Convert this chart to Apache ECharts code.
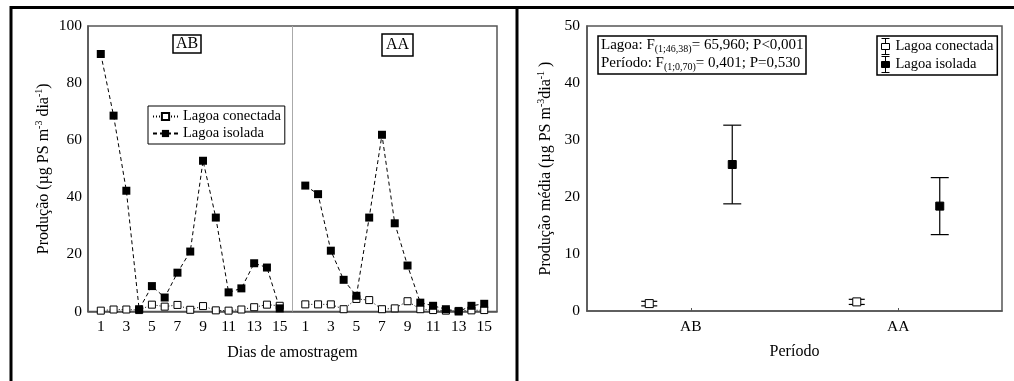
<!DOCTYPE html>
<html>
<head>
<meta charset="utf-8">
<script src="https://cdn.jsdelivr.net/npm/echarts@6/dist/echarts.min.js"></script>
<style>
  html, body { margin: 0; padding: 0; background: #fff; }
  #main { width: 1014px; height: 381px; }
</style>
</head>
<body>
<div id="main"></div>
<script>
// dias de amostragem (cada período)
var days = [1, 2, 3, 4, 5, 6, 7, 8, 9, 10, 11, 12, 13, 14, 15];
// período AB
var abConectada = [0.3, 0.7, 0.7, 0.5, 2.4, 1.7, 2.3, 0.6, 1.9, 0.4, 0.3, 0.7, 1.5, 2.4, 2.0];
var abIsolada = [90.2, 68.6, 42.3, 0.8, 8.9, 4.9, 13.6, 21.0, 52.8, 32.9, 6.7, 8.1, 16.9, 15.4, 1.1];
// período AA
var aaConectada = [2.5, 2.5, 2.5, 0.8, 4.4, 4.0, 0.8, 1.1, 3.6, 0.8, 0.5, 0.3, 0.2, 0.4, 0.5];
var aaIsolada = [44.1, 41.1, 21.3, 11.1, 5.5, 32.9, 61.9, 30.9, 16.1, 3.1, 2.0, 0.8, 0.0, 2.0, 2.7];

// médias por período (painel direito)
var periodos = ["AB", "AA"];
var mediaConectada = [1.3, 1.6];
var erroConectada = [0.4, 0.45];
var mediaIsolada = [25.7, 18.4];
var erroIsolada = [6.9, 5.0];

var FONT = "Liberation Serif";
var OFFSET_AA = 16; // AA é desenhado à direita da linha divisória

function pts(vals, shift) {
  return days.map(function (d, i) { return [d + shift, vals[i]]; });
}
function errData(mean, err) {
  return periodos.map(function (p, i) { return [i, mean[i], mean[i] - err[i], mean[i] + err[i]]; });
}

function errorBar(offset, capW, filled) {
  return function (params, api) {
    var i = api.value(0);
    var band = api.size([1, 0])[0];
    var x = api.coord([i, 0])[0] + offset * band;
    var yM = api.coord([i, api.value(1)])[1];
    var yLo = api.coord([i, api.value(2)])[1];
    var yHi = api.coord([i, api.value(3)])[1];
    var s = 8;
    var st = { stroke: "#000", lineWidth: 1.2 };
    return {
      type: "group",
      children: [
        { type: "line", shape: { x1: x, y1: yLo, x2: x, y2: yHi }, style: st },
        { type: "line", shape: { x1: x - capW / 2, y1: yLo, x2: x + capW / 2, y2: yLo }, style: st },
        { type: "line", shape: { x1: x - capW / 2, y1: yHi, x2: x + capW / 2, y2: yHi }, style: st },
        { type: "rect", shape: { x: x - s / 2, y: yM - s / 2, width: s, height: s },
          style: { fill: filled ? "#000" : "#fff", stroke: "#000", lineWidth: 1 } }
      ]
    };
  };
}

var dayLabel = function (v) {
  if (v >= 1 && v <= 15 && v % 2 === 1) return String(v);
  var w = v - OFFSET_AA;
  if (w >= 1 && w <= 15 && w % 2 === 1) return String(w);
  return "";
};

var nameRich = {
  a: { fontSize: 16, fontFamily: FONT, color: "#000", lineHeight: 20 },
  sup: { fontSize: 10, fontFamily: FONT, color: "#000", verticalAlign: "top", lineHeight: 11 }
};

var conectadaStyle = {
  symbol: "rect", symbolSize: 7,
  itemStyle: { color: "#fff", borderColor: "#000", borderWidth: 1 },
  lineStyle: { color: "#000", width: 1, type: [1, 2] }
};
var isoladaStyle = {
  symbol: "rect", symbolSize: 8,
  itemStyle: { color: "#000" },
  lineStyle: { color: "#000", width: 1, type: [4, 3] }
};

var chart = echarts.init(document.getElementById("main"));
var option = {
  backgroundColor: "#fff",
  animation: false,
  textStyle: { fontFamily: FONT, color: "#000" },
  title: [
    { text: "AB", left: 173, top: 35, padding: [1, 3], borderColor: "#000", borderWidth: 1.5,
      textStyle: { fontSize: 16, fontWeight: "normal", fontFamily: FONT, color: "#000" } },
    { text: "AA", left: 382, top: 34, padding: [3, 4], borderColor: "#000", borderWidth: 1.5,
      textStyle: { fontSize: 16, fontWeight: "normal", fontFamily: FONT, color: "#000" } },
    {
      text: "{a|Lagoa: F}{s|(1;46,38)}{a|= 65,960; P<0,001}\n{a|Período: F}{s|(1;0,70)}{a|= 0,401; P=0,530}",
      left: 598, top: 34, padding: [2, 3], borderColor: "#000", borderWidth: 1.5,
      textStyle: {
        fontWeight: "normal",
        rich: {
          a: { fontSize: 15, fontWeight: "normal", fontFamily: FONT, color: "#000", lineHeight: 18 },
          s: { fontSize: 10, fontWeight: "normal", fontFamily: FONT, color: "#000", verticalAlign: "bottom", lineHeight: 12 }
        }
      }
    }
  ],
  legend: [
    {
      orient: "vertical", left: 148, top: 106, padding: [3, 4], itemGap: 2,
      itemWidth: 25, itemHeight: 9,
      borderColor: "#000", borderWidth: 1, backgroundColor: "#fff",
      textStyle: { fontSize: 14.5, fontFamily: FONT, color: "#000" },
      data: ["Lagoa conectada", "Lagoa isolada"]
    },
    {
      orient: "vertical", left: 877, top: 36, padding: [2, 4], itemGap: 1,
      itemWidth: 10, itemHeight: 16,
      borderColor: "#000", borderWidth: 1.5,
      textStyle: { fontSize: 14.5, fontFamily: FONT, color: "#000" },
      data: [
        { name: "Lagoa conectada", icon: "path://M5,0V5M5,11V16M1,0H9M1,16H9M1,5H9V11H1Z",
          itemStyle: { color: "#fff", borderColor: "#000", borderWidth: 1 } },
        { name: "Lagoa isolada", icon: "path://M5,0V16M1,0H9M1,16H9M1,5H9V11H1Z",
          itemStyle: { color: "#000", borderColor: "#000", borderWidth: 1 } }
      ]
    }
  ],
  grid: [
    { left: 88, top: 26, width: 409, height: 285.5, show: true, borderColor: "#555", borderWidth: 1.5 },
    { left: 587, top: 26, width: 415, height: 285, show: true, borderColor: "#555", borderWidth: 1.5 }
  ],
  xAxis: [
    {
      gridIndex: 0, type: "value", min: 0, max: 32, interval: 1,
      name: "Dias de amostragem", nameLocation: "middle", nameGap: 33,
      nameTextStyle: { fontSize: 16, fontFamily: FONT, color: "#000" },
      axisLine: { lineStyle: { color: "#555", width: 1.5 } },
      axisTick: { show: false }, splitLine: { show: false },
      axisLabel: { fontSize: 15.5, fontFamily: FONT, color: "#000", margin: 7, formatter: dayLabel }
    },
    {
      gridIndex: 1, type: "category", data: periodos,
      name: "Período", nameLocation: "middle", nameGap: 33,
      nameTextStyle: { fontSize: 16, fontFamily: FONT, color: "#000" },
      axisLine: { lineStyle: { color: "#555", width: 1.5 } },
      axisTick: { show: true, inside: true, length: 3, alignWithLabel: true, lineStyle: { color: "#555" } },
      splitLine: { show: false },
      axisLabel: { fontSize: 15.5, fontFamily: FONT, color: "#000", margin: 8 }
    }
  ],
  yAxis: [
    {
      gridIndex: 0, type: "value", min: 0, max: 100, interval: 20,
      name: "{a|Produção (µg PS m}{sup|-3}{a| dia}{sup|-1}{a|)}",
      nameLocation: "middle", nameGap: 34,
      nameTextStyle: { rich: nameRich },
      axisLine: { show: true, lineStyle: { color: "#555", width: 1.5 } },
      axisTick: { show: false }, splitLine: { show: false },
      axisLabel: { fontSize: 15.5, fontFamily: FONT, color: "#000", margin: 6 }
    },
    {
      gridIndex: 1, type: "value", min: 0, max: 50, interval: 10,
      name: "{a|Produção média (µg PS m}{sup|-3}{a|dia}{sup|-1}{a| )}",
      nameLocation: "middle", nameGap: 31,
      nameTextStyle: { rich: nameRich },
      axisLine: { show: true, lineStyle: { color: "#555", width: 1.5 } },
      axisTick: { show: false }, splitLine: { show: false },
      axisLabel: { fontSize: 15.5, fontFamily: FONT, color: "#000", margin: 7 }
    }
  ],
  series: [
    Object.assign({ name: "Lagoa conectada", type: "line", xAxisIndex: 0, yAxisIndex: 0,
      data: pts(abConectada, 0),
      markLine: {
        silent: true, symbol: "none", label: { show: false },
        lineStyle: { color: "#aaa", width: 1, type: "solid" },
        data: [{ xAxis: OFFSET_AA }]
      }
    }, conectadaStyle),
    Object.assign({ name: "Lagoa conectada", type: "line", xAxisIndex: 0, yAxisIndex: 0,
      data: pts(aaConectada, OFFSET_AA) }, conectadaStyle),
    Object.assign({ name: "Lagoa isolada", type: "line", xAxisIndex: 0, yAxisIndex: 0,
      data: pts(abIsolada, 0) }, isoladaStyle),
    Object.assign({ name: "Lagoa isolada", type: "line", xAxisIndex: 0, yAxisIndex: 0,
      data: pts(aaIsolada, OFFSET_AA) }, isoladaStyle),
    {
      name: "Lagoa conectada", type: "custom", xAxisIndex: 1, yAxisIndex: 1,
      encode: { x: 0, y: [1, 2, 3] },
      renderItem: errorBar(-0.2, 16, false),
      data: errData(mediaConectada, erroConectada)
    },
    {
      name: "Lagoa isolada", type: "custom", xAxisIndex: 1, yAxisIndex: 1,
      encode: { x: 0, y: [1, 2, 3] },
      renderItem: errorBar(0.2, 18, true),
      data: errData(mediaIsolada, erroIsolada)
    }
  ],
  graphic: [
    { type: "line", shape: { x1: 10, y1: 7.5, x2: 1014, y2: 7.5 }, style: { stroke: "#000", lineWidth: 3 } },
    { type: "line", shape: { x1: 11, y1: 6, x2: 11, y2: 381 }, style: { stroke: "#000", lineWidth: 3 } },
    { type: "line", shape: { x1: 517, y1: 6, x2: 517, y2: 381 }, style: { stroke: "#000", lineWidth: 3 } }
  ]
};
chart.setOption(option);
window.addEventListener("resize", function () {
  chart.resize();
});
</script>
</body>
</html>
